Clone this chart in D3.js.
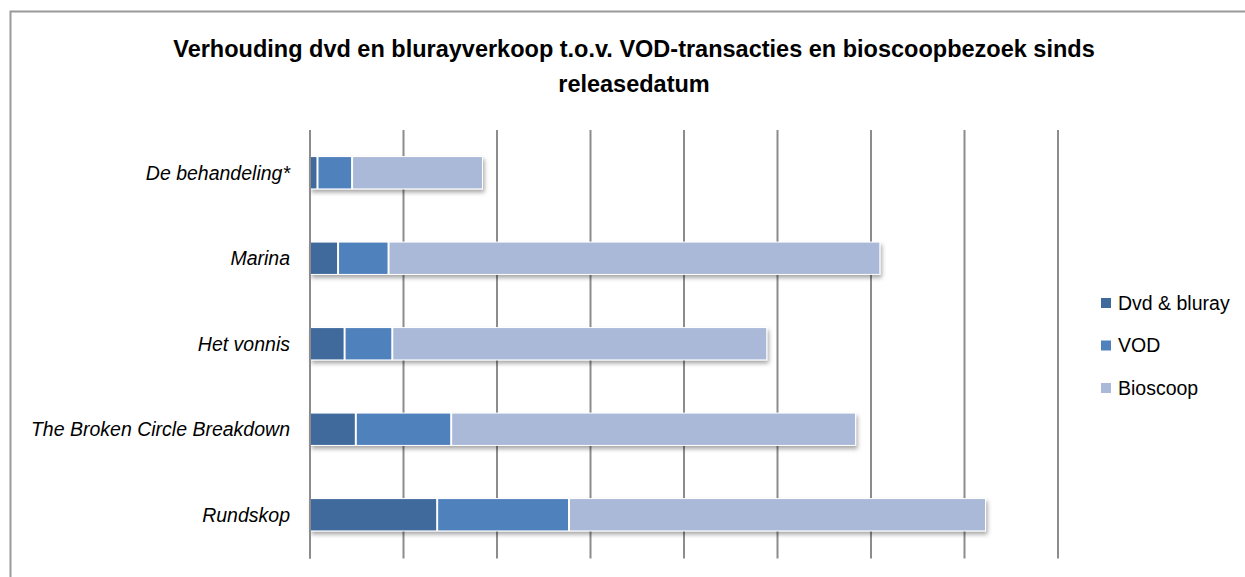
<!DOCTYPE html>
<html>
<head>
<meta charset="utf-8">
<script src="https://cdn.jsdelivr.net/npm/d3@7"></script>
<style>
  body { margin: 0; background: #fff; }
  text { font-family: Arial, "Liberation Sans", sans-serif; }
</style>
</head>
<body>
<svg id="chart" width="1245" height="577"></svg>
<script>
/// data (arbitrary units, gridline every 10)
var films = ["De behandeling*", "Marina", "Het vonnis",
             "The Broken Circle Breakdown", "Rundskop"];
var seriesNames = ["Dvd & bluray", "VOD", "Bioscoop"];
var dvdValues = [0.8, 3.0, 3.7, 4.9, 13.6];
var vodValues = [3.7, 5.4, 5.1, 10.2, 14.1];
var bioscoopValues = [14.0, 52.6, 40.1, 43.3, 44.6];
var gridTicks = [0, 10, 20, 30, 40, 50, 60, 70, 80];
var colors = ["#406a9c", "#4f81bd", "#aab9d7"];

var svg = d3.select("#chart");

/// table for stack
var rows = films.map(function(f, i) {
  return {film: f, "Dvd & bluray": dvdValues[i], "VOD": vodValues[i], "Bioscoop": bioscoopValues[i]};
});
var stacked = d3.stack().keys(seriesNames)(rows);

var margin = {left: 310, top: 130, right: 1058, bottom: 557.5};

var x = d3.scaleLinear().domain([0, 80]).range([margin.left, margin.right]);
var y = d3.scaleBand().domain(films).range([margin.top, margin.bottom])
          .paddingInner(0.61).paddingOuter(0.305);

// shadow filter
var defs = svg.append("defs");
var flt = defs.append("filter").attr("id", "shadow")
              .attr("x", "-5%").attr("y", "-30%").attr("width", "110%").attr("height", "170%");
flt.append("feDropShadow").attr("dx", 1.5).attr("dy", 3).attr("stdDeviation", 2)
   .attr("flood-color", "#000").attr("flood-opacity", 0.35);

// outer frame
svg.append("path")
   .attr("d", "M10.5,577 L10.5,11.5 L1245,11.5")
   .attr("fill", "none").attr("stroke", "#9a9a9a").attr("stroke-width", 2);

// title
var title = svg.append("text")
   .attr("text-anchor", "middle")
   .style("font-size", "23.5px").style("font-weight", "bold")
   .attr("fill", "#000");
title.append("tspan").attr("x", 634).attr("y", 57)
     .text("Verhouding dvd en blurayverkoop t.o.v. VOD-transacties en bioscoopbezoek sinds");
title.append("tspan").attr("x", 634).attr("y", 92).text("releasedatum");

// gridlines
svg.append("g").selectAll("line")
   .data(gridTicks)
   .enter()
   .append("line")
   .attr("x1", d => x(d)).attr("x2", d => x(d))
   .attr("y1", margin.top).attr("y2", margin.bottom + 1)
   .attr("stroke", "#8c8c8c")
   .attr("stroke-width", 2);

// bars: shadow layer per film then segments
var barG = svg.append("g");
barG.selectAll("rect.shadowBar")
    .data(rows)
    .enter()
    .append("rect")
    .attr("class", "shadowBar")
    .attr("x", x(0))
    .attr("y", d => y(d.film))
    .attr("width", d => x(d["Dvd & bluray"] + d["VOD"] + d["Bioscoop"]) - x(0))
    .attr("height", y.bandwidth())
    .attr("fill", "#fff")
    .attr("filter", "url(#shadow)");

barG.selectAll("g.series")
    .data(stacked)
    .enter()
    .append("g")
    .attr("class", "series")
    .attr("fill", (d, i) => colors[i])
    .selectAll("rect")
    .data(d => d)
    .enter()
    .append("rect")
    .attr("x", d => x(d[0]) + 1)
    .attr("y", d => y(d.data.film) + 1)
    .attr("width", d => Math.max(0, x(d[1]) - x(d[0]) - 2))
    .attr("height", y.bandwidth() - 2);

// redraw axis line over bars
svg.append("line")
   .attr("x1", x(0)).attr("x2", x(0))
   .attr("y1", margin.top).attr("y2", margin.bottom + 1)
   .attr("stroke", "#8c8c8c").attr("stroke-width", 2);

// category labels
svg.append("g").selectAll("text")
   .data(films)
   .enter()
   .append("text")
   .attr("x", 290)
   .attr("y", d => y(d) + y.bandwidth() / 2)
   .attr("dy", "0.35em")
   .attr("text-anchor", "end")
   .style("font-size", "19.5px").style("font-style", "italic")
   .attr("fill", "#000")
   .text(d => d);

// legend
var legend = svg.append("g").selectAll("g")
   .data(seriesNames)
   .enter()
   .append("g")
   .attr("transform", (d, i) => "translate(1101," + (303 + i * 42.5) + ")");
legend.append("rect")
      .attr("x", 0).attr("y", -5).attr("width", 10).attr("height", 10)
      .attr("fill", (d, i) => colors[i]);
legend.append("text")
      .attr("x", 17).attr("y", 0).attr("dy", "0.35em")
      .style("font-size", "19.5px").attr("fill", "#000")
      .text(d => d);
</script>
</body>
</html>
